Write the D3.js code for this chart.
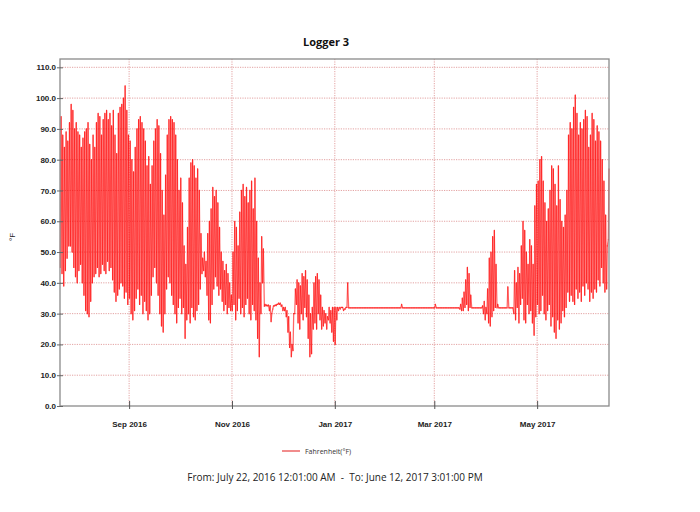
<!DOCTYPE html>
<html>
<head>
<meta charset="utf-8">
<script src="https://cdn.jsdelivr.net/npm/d3@7/dist/d3.min.js"></script>
<style>
  body { margin: 0; background: #fff; }
  svg { display: block; }
</style>
</head>
<body>
<svg id="chart" width="700" height="512"></svg>
<script>
/* globals d3 */
"use strict";

// Daily high / low readings (°F).
// July starts on the 22nd, June stops on the 12th.
var julHigh = [94,88,84,89,86,92,98,96,90,92],
    julLow  = [45,43,39,44,48,52,52,50,45,42];
var augHigh = [89,88,84,87,89,90,92,85,80,88, 84,92,95,94,88,93,95,96,93,95, 91,96,88,82,95,97,98,100,104,96, 88],
    augLow  = [40,44,46,40,36,31,30,29,34,40, 42,43,45,42,43,46,44,43,47,44, 45,41,37,34,36,38,40,39,35,37, 33];
var sepHigh = [86,80,76,84,90,93,94,92,90,86, 78,81,72,78,86,90,93,91,82,70, 62,75,88,93,94,93,92,88,80,70],
    sepLow  = [35,30,28,31,35,38,33,36,30,34, 31,28,30,36,42,45,40,36,30,26, 24,30,38,42,40,36,33,30,27,32];
var octHigh = [74,66,52,46,58,74,79,80,78,74, 77,70,56,48,50,47,56,60,64,71, 68,70,66,58,50,47,44,46,43,40, 36],
    octLow  = [35,30,32,22,28,30,27,32,29,28, 31,33,38,43,44,42,36,28,27,33, 38,42,39,36,38,34,31,33,30,32, 31];
var novHigh = [50,60,58,52,63,70,72,68,71,66, 70,73,64,74,60,48,40,55,51,33, 32.8,32.8,32.6,30,32.5,32.8,33,33.4,33.4,32.8],
    novLow  = [31,33,28,31,35,30,32,29,33,35, 30,28,33,31,28,22,16,30,40,32.4, 32.5,32.5,31,27.4,31.5,32.5,32.6,33,33,32.4];
var decHigh = [32,32,31,29,24,20,30,38,41,40, 39,43,42,44,41,36,30,32,40,42, 43,41,36,32,31,30,29,32,31,32, 32],
    decLow  = [31,31,29,24,19,16,18,30,33,27, 25,30,28,32,29,22,16,17,25,27, 25,30,28,25,26,27,25,28,27,24, 21];
var janHigh = [32,32,32,32,32,31.5,32,40,31.9,31.9, 31.9,31.9,31.9,31.9,31.9,31.9,31.9,31.9,31.9,31.9, 31.9,31.9,31.9,31.9,31.9,31.9,31.9,31.9,31.9,31.9, 31.9],
    janLow  = [20,28,31,31.5,32,31,31.5,32,31.9,31.9, 31.9,31.9,31.9,31.9,31.9,31.9,31.9,31.9,31.9,31.9, 31.9,31.9,31.9,31.9,31.9,31.9,31.9,31.9,31.9,31.9, 31.9];
var febHigh = [31.9,31.9,31.9,31.9,31.9,31.9,31.9,31.9,33,31.9, 31.9,31.9,31.9,31.9,31.9,31.9,31.9,31.9,31.9,31.9, 31.9,31.9,31.9,31.9,31.9,31.9,31.9,31.9],
    febLow  = [31.9,31.9,31.9,31.9,31.9,31.9,31.9,31.9,31.9,31.9, 31.9,31.9,31.9,31.9,31.9,31.9,31.9,31.9,31.9,31.9, 31.9,31.9,31.9,31.9,31.9,31.9,31.9,31.9];
var marHigh = [33,31.9,31.9,31.9,31.9,31.9,31.9,31.9,31.9,31.9, 31.9,31.9,31.9,31.9,31.9,33,35,37,41,45, 43,36,31.9,31.9,31.9,31.9,31.9,31.9,32.5,34, 32],
    marLow  = [31.9,31.9,31.9,31.9,31.9,31.9,31.9,31.9,31.9,31.9, 31.9,31.9,31.9,31.9,31.9,31.5,31,31,32,33, 31,32,31.9,31.9,31.9,31.9,31.9,31.9,31.9,30, 28];
var aprHigh = [38,48,50,55,57,46,33,31.9,31.9,31.9, 31.9,31.9,38.7,31.9,31.9,31.9,44,40,45,43, 52,60,57,50,46,54,52,46,65,72],
    aprLow  = [30,27,26,29,31,32,31.9,31.9,31.9,31.9, 31.9,31.9,31.9,31.9,31.9,31.9,30,28,32,27, 33,35,28,27,33,30,31,27,23,29];
var mayHigh = [73,80,81,73,66,60,64,70,78,77, 72,65,78,67,60,58,62,70,88,92, 90,97,101,95,88,92,90,93,96,94, 84],
    mayLow  = [33,30,31,36,30,28,31,33,26,29, 24,22,28,25,27,31,29,32,37,34, 36,34,33,38,35,37,34,39,36,40, 38];
var junHigh = [88,95,93,86,91,89,86,80,73,62,52,77],
    junLow  = [34,37,35,38,37,41,39,45,40,37,38,54];

var yTicks = [0,10,20,30,40,50,60,70,80,90,100,110];
var monthTicks = [new Date(2016,8,1), new Date(2016,10,1), new Date(2017,0,1), new Date(2017,2,1), new Date(2017,4,1)];
var tickLabels = ["Sep 2016", "Nov 2016", "Jan 2017", "Mar 2017", "May 2017"];

var firstDay = new Date(2016, 6, 22),
    startTime = new Date(2016, 6, 22, 0, 1),
    endTime = new Date(2017, 5, 12, 15, 1);

var chartTitle = "Logger 3",
    seriesName = "Fahrenheit(°F)",
    rangeText = "From: July 22, 2016 12:01:00 AM  -  To: June 12, 2017 3:01:00 PM";

// each day becomes a low (early morning) and a high (afternoon) point
function buildPoints() {
    var highs = [].concat(julHigh, augHigh, sepHigh, octHigh, novHigh, decHigh,
                          janHigh, febHigh, marHigh, aprHigh, mayHigh, junHigh),
        lows = [].concat(julLow, augLow, sepLow, octLow, novLow, decLow,
                         janLow, febLow, marLow, aprLow, mayLow, junLow),
        pts = [];
    highs.forEach(function (h, i) {
        var day = d3.timeDay.offset(firstDay, i);
        pts.push({t: d3.timeHour.offset(day, 5), v: lows[i]});
        pts.push({t: d3.timeHour.offset(day, 15), v: h});
    });
    return pts;
}

var svg = d3.select("#chart"),
    plotLeft = 60, plotRight = 609, plotTop = 59, plotBottom = 406,
    font = "'Liberation Sans', Arial, sans-serif";

var x = d3.scaleTime().domain([startTime, endTime]).range([plotLeft, plotRight]),
    y = d3.scaleLinear().domain([0, 112.7]).range([plotBottom, plotTop]);

// grid
svg.append("g").selectAll("line")
    .data(yTicks.slice(1))
    .enter().append("line")
    .attr("x1", plotLeft).attr("x2", plotRight)
    .attr("y1", function (d) { return y(d); })
    .attr("y2", function (d) { return y(d); })
    .attr("stroke", "#dc8c8c").attr("stroke-width", 0.8)
    .attr("stroke-dasharray", "1.2,1.2");

svg.append("g").selectAll("line")
    .data(monthTicks)
    .enter().append("line")
    .attr("x1", function (d) { return x(d); })
    .attr("x2", function (d) { return x(d); })
    .attr("y1", plotTop).attr("y2", plotBottom)
    .attr("stroke", "#dc8c8c").attr("stroke-width", 0.8)
    .attr("stroke-dasharray", "1.2,1.2");

// series: drawn segment by segment so overlapping strokes build up colour
var points = buildPoints(),
    segments = d3.pairs(points);

svg.append("g")
    .attr("stroke", "#ff0000")
    .attr("stroke-opacity", 0.6)
    .attr("stroke-width", 1.25)
    .attr("stroke-linecap", "round")
    .selectAll("line")
    .data(segments)
    .enter().append("line")
    .attr("x1", function (d) { return x(d[0].t); })
    .attr("y1", function (d) { return y(d[0].v); })
    .attr("x2", function (d) { return x(d[1].t); })
    .attr("y2", function (d) { return y(d[1].v); });

// frame
svg.append("rect")
    .attr("x", plotLeft).attr("y", plotTop)
    .attr("width", plotRight - plotLeft).attr("height", plotBottom - plotTop)
    .attr("fill", "none").attr("stroke", "#8a8a8a").attr("stroke-width", 1.3);

// axes
var yAxis = svg.append("g")
    .attr("transform", "translate(" + plotLeft + ",0)")
    .call(d3.axisLeft(y).tickValues(yTicks).tickFormat(d3.format(".1f"))
          .tickSizeInner(3).tickSizeOuter(0).tickPadding(1));
yAxis.select(".domain").remove();
yAxis.selectAll(".tick line").attr("x1", 3).attr("stroke", "#666");
yAxis.selectAll("text")
    .attr("font-family", font).attr("font-size", 8).attr("font-weight", "bold").attr("fill", "#222");

var xAxis = svg.append("g")
    .attr("transform", "translate(0," + plotBottom + ")")
    .call(d3.axisBottom(x).tickValues(monthTicks)
          .tickFormat(function (d, i) { return tickLabels[i]; })
          .tickSizeInner(3).tickSizeOuter(0).tickPadding(12));
xAxis.select(".domain").remove();
xAxis.selectAll(".tick line").attr("y1", -5).attr("stroke", "#555");
xAxis.selectAll("text")
    .attr("font-family", font).attr("font-size", 8).attr("font-weight", "bold").attr("fill", "#222");

// title, axis label, legend, footer
svg.append("text")
    .attr("x", 326).attr("y", 46)
    .attr("text-anchor", "middle")
    .attr("font-family", "'Open Sans', sans-serif").attr("font-size", 11).attr("font-weight", "bold")
    .attr("fill", "#111")
    .text(chartTitle);

svg.append("text")
    .attr("transform", "translate(15,237) rotate(-90)")
    .attr("text-anchor", "middle")
    .attr("font-family", font).attr("font-size", 8).attr("fill", "#222")
    .text("°F");

svg.append("line")
    .attr("x1", 282).attr("x2", 300).attr("y1", 451).attr("y2", 451)
    .attr("stroke", "#e84040").attr("stroke-width", 1.2);
svg.append("text")
    .attr("x", 305).attr("y", 453.5)
    .attr("font-family", "'Open Sans', sans-serif").attr("font-size", 7).attr("fill", "#333")
    .text(seriesName);

svg.append("text")
    .attr("x", 335).attr("y", 480.5)
    .attr("text-anchor", "middle")
    .attr("font-family", "'Open Sans', sans-serif").attr("font-size", 10).attr("fill", "#222")
    .style("white-space", "pre")
    .text(rangeText);
</script>
</body>
</html>
